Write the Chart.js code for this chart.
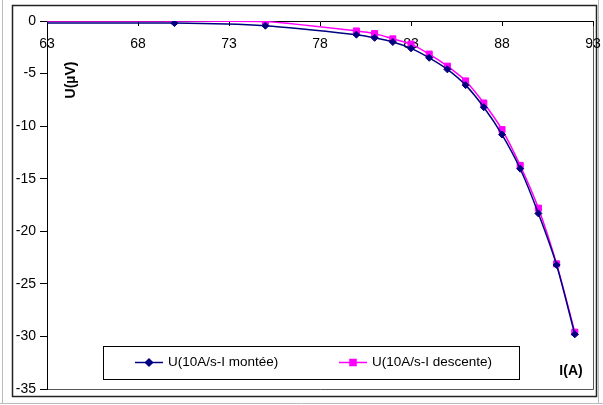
<!DOCTYPE html>
<html>
<head>
<meta charset="utf-8">
<script src="https://cdn.jsdelivr.net/npm/chart.js@4/dist/chart.umd.min.js"></script>
<style>
  html, body { margin: 0; padding: 0; background: #fff; }
  #wrap { width: 603px; height: 405px; position: relative; }
</style>
</head>
<body>
<div id="wrap"><canvas id="chart" width="603" height="405"></canvas></div>
<script>
// Data
const currentA = [60, 70, 75, 80, 81, 82, 83, 84, 85, 86, 87, 88, 89, 90, 91, 92];
const upValues = [-0.2, -0.2, -0.45, -1.3, -1.6, -2.0, -2.6, -3.5, -4.6, -6.1, -8.2, -10.8, -14.05, -18.3, -23.2, -29.8];
const downValues = [0, 0, -0.05, -0.95, -1.2, -1.7, -2.2, -3.15, -4.3, -5.7, -7.8, -10.33, -13.74, -17.8, -23.1, -29.6];
const xTicks = [63, 68, 73, 78, 83, 88, 93];
const yTicks = [0, -5, -10, -15, -20, -25, -30, -35];
const seriesNames = ['U(10A/s-I montée)', 'U(10A/s-I descente)'];

const FONT = 'Arial, "Liberation Sans", sans-serif';

function toPoints(xs, ys) {
    return xs.map((x, i) => ({ x: x, y: ys[i] }));
}

// Frame, axis titles and the legend box drawn inside the plot
const decorations = {
    id: 'decorations',
    beforeDraw(chart) {
        const ctx = chart.ctx;
        const area = chart.chartArea;
        ctx.save();
        ctx.fillStyle = '#fff';
        ctx.fillRect(0, 0, chart.width, chart.height);
        // light outer border
        ctx.strokeStyle = '#bbb';
        ctx.lineWidth = 1;
        ctx.beginPath();
        ctx.moveTo(2.5, 0); ctx.lineTo(2.5, 404);
        ctx.moveTo(598.5, 0); ctx.lineTo(598.5, 404);
        ctx.moveTo(0, 403.5); ctx.lineTo(603, 403.5);
        ctx.stroke();
        // chart frame
        ctx.strokeStyle = '#222';
        ctx.lineWidth = 1.5;
        ctx.strokeRect(12.5, 5.5, 584, 391);
        // plot area border (right and bottom)
        ctx.strokeStyle = '#555';
        ctx.lineWidth = 1;
        ctx.beginPath();
        ctx.moveTo(area.left, Math.round(area.bottom) + 0.5);
        ctx.lineTo(Math.round(area.right) + 0.5, Math.round(area.bottom) + 0.5);
        ctx.lineTo(Math.round(area.right) + 0.5, area.top);
        ctx.stroke();
        ctx.restore();
    },
    afterDraw(chart) {
        const ctx = chart.ctx;
        ctx.save();
        ctx.fillStyle = '#000';
        ctx.font = 'bold 14px ' + FONT;
        // y title inside the plot
        ctx.save();
        ctx.translate(71, 80);
        ctx.rotate(-Math.PI / 2);
        ctx.textAlign = 'center';
        ctx.textBaseline = 'middle';
        ctx.fillText('U(µV)', 0, 0);
        ctx.restore();
        // x title
        ctx.textAlign = 'center';
        ctx.textBaseline = 'middle';
        ctx.fillText('I(A)', 571, 371);

        // legend
        const box = { x: 103.5, y: 346.5, w: 416, h: 33 };
        ctx.fillStyle = '#fff';
        ctx.fillRect(box.x, box.y, box.w, box.h);
        ctx.strokeStyle = '#000';
        ctx.lineWidth = 1;
        ctx.strokeRect(box.x, box.y, box.w, box.h);
        const items = [
            { x: 135, style: 'rectRot', r: 3.5 },
            { x: 339, style: 'rect', r: 4.3 }
        ];
        const ly = 362.5;
        items.forEach((it, i) => {
            const ds = chart.data.datasets[i];
            ctx.strokeStyle = ds.borderColor;
            ctx.lineWidth = 1.5;
            ctx.beginPath();
            ctx.moveTo(it.x, ly);
            ctx.lineTo(it.x + 28, ly);
            ctx.stroke();
            ctx.fillStyle = ds.backgroundColor;
            Chart.helpers.drawPoint(ctx, { pointStyle: it.style, radius: it.r, borderWidth: 1, rotation: 0 }, it.x + 14, ly);
            ctx.fillStyle = '#000';
            ctx.font = '13.5px ' + FONT;
            ctx.textAlign = 'left';
            ctx.textBaseline = 'middle';
            ctx.fillText(ds.label, it.x + 33, ly);
        });
        ctx.restore();
    }
};

new Chart(document.getElementById('chart'), {
    type: 'line',
    data: {
        datasets: [
            {
                label: seriesNames[0],
                data: toPoints(currentA, upValues),
                borderColor: '#000080',
                backgroundColor: '#000080',
                borderWidth: 1.5,
                pointStyle: 'rectRot',
                pointRadius: 3.5,
                pointBorderWidth: 1,
                tension: 0.25
            },
            {
                label: seriesNames[1],
                data: toPoints(currentA, downValues),
                borderColor: '#ff00ff',
                backgroundColor: '#ff00ff',
                borderWidth: 1.5,
                pointStyle: 'rect',
                pointRadius: 4.3,
                pointBorderWidth: 1,
                tension: 0.25
            }
        ]
    },
    options: {
        responsive: false,
        animation: false,
        layout: { padding: { top: 21, right: 10, bottom: 16, left: 12 } },
        plugins: {
            legend: { display: false },
            tooltip: { enabled: false }
        },
        scales: {
            x: {
                type: 'linear',
                position: { y: 0 },
                min: 63,
                max: 93,
                afterBuildTicks: (scale) => {
                    scale.ticks = xTicks.map(v => ({ value: v }));
                },
                afterFit: (scale) => {
                    scale.paddingLeft = 0;
                    scale.paddingRight = 0;
                },
                grid: { display: true, drawOnChartArea: false, drawTicks: true, tickLength: 4, color: '#000' },
                border: { display: true, color: '#000', width: 1 },
                ticks: { color: '#000', font: { family: FONT, size: 14 }, padding: 11, maxRotation: 0, autoSkip: false }
            },
            y: {
                type: 'linear',
                min: -35,
                max: 0,
                afterBuildTicks: (scale) => {
                    scale.ticks = yTicks.map(v => ({ value: v }));
                },
                afterFit: (scale) => {
                    scale.width = 35;
                    scale.paddingTop = 0;
                    scale.paddingBottom = 0;
                },
                grid: { display: true, drawOnChartArea: false, drawTicks: true, tickLength: 7, color: '#000' },
                border: { display: true, color: '#000', width: 1 },
                ticks: { color: '#000', font: { family: FONT, size: 14 }, padding: 4, autoSkip: false }
            }
        }
    },
    plugins: [decorations]
});
</script>
</body>
</html>
